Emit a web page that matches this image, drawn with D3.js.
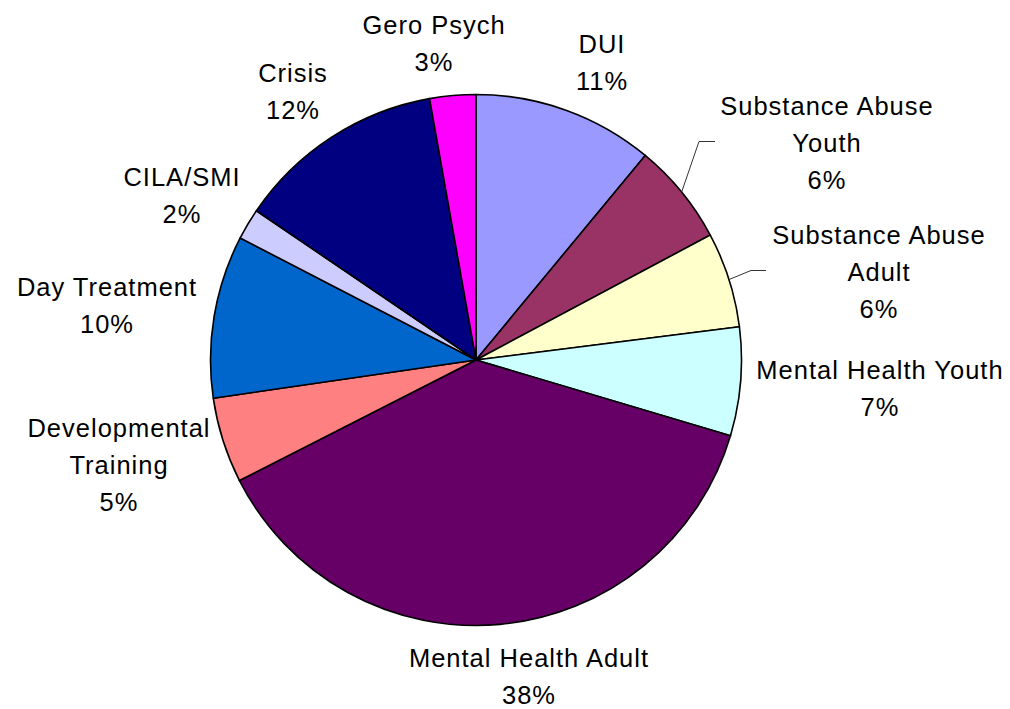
<!DOCTYPE html>
<html>
<head>
<meta charset="utf-8">
<script src="https://cdn.jsdelivr.net/npm/d3@7"></script>
<style>
  html, body { margin: 0; padding: 0; background: #ffffff; }
  svg { display: block; }
  text { font-family: "Liberation Sans", Arial, sans-serif; font-size: 25.5px; letter-spacing: 1px; fill: #000; }
</style>
</head>
<body>
<svg id="chart" width="1010" height="709"></svg>
<script>
// ---- Data (clockwise from 12 o'clock) ----
const categories = ["DUI", "Substance Abuse Youth", "Substance Abuse Adult", "Mental Health Youth",
  "Mental Health Adult", "Developmental Training", "Day Treatment", "CILA/SMI", "Crisis", "Gero Psych"];
const values = [11.0, 6.2, 5.8, 6.6, 37.9, 5.2, 9.9, 1.9, 12.7, 2.8];
const percentLabels = ["11%", "6%", "6%", "7%", "38%", "5%", "10%", "2%", "12%", "3%"];
const labelLines = [["DUI"], ["Substance Abuse", "Youth"], ["Substance Abuse", "Adult"], ["Mental Health Youth"],
  ["Mental Health Adult"], ["Developmental", "Training"], ["Day Treatment"], ["CILA/SMI"], ["Crisis"], ["Gero Psych"]];
const colors = ["#9999FF", "#993366", "#FFFFCC", "#CCFFFF", "#660066", "#FF8080", "#0066CC", "#CCCCFF", "#000080", "#FF00FF"];

// ---- Layout ----
const cx = 476, cy = 360, radius = 265.5;
const lineGap = 37;
// label anchor: center x and first baseline y
const labelLayout = {
  "DUI": [602, 53],
  "Substance Abuse Youth": [827, 115],
  "Substance Abuse Adult": [879, 243.5],
  "Mental Health Youth": [880, 378.5],
  "Mental Health Adult": [529, 667],
  "Developmental Training": [119, 436.5],
  "Day Treatment": [107, 295.5],
  "CILA/SMI": [182, 186],
  "Crisis": [293, 82],
  "Gero Psych": [434, 33.5]
};
// leader lines: elbow and end points
const leaderLayout = {
  "Substance Abuse Youth": [[699, 141.5], [715, 141.5]],
  "Substance Abuse Adult": [[751, 270.5], [766, 270.5]]
};

const svg = d3.select("#chart");
const g = svg.append("g").attr("transform", `translate(${cx},${cy})`);

const pie = d3.pie().sort(null).value(d => d.value);
const data = categories.map((c, i) => ({ name: c, value: values[i], color: colors[i], pct: percentLabels[i], lines: labelLines[i] }));
const arcs = pie(data);
const arc = d3.arc().innerRadius(0).outerRadius(radius);

g.selectAll("path.slice")
  .data(arcs)
  .join("path")
  .attr("class", "slice")
  .attr("d", arc)
  .attr("fill", d => d.data.color)
  .attr("stroke", "#000")
  .attr("stroke-width", 1.6)
  .attr("stroke-linejoin", "round");

// leader lines
const edgeArc = d3.arc().innerRadius(radius).outerRadius(radius);
arcs.forEach(a => {
  const lay = leaderLayout[a.data.name];
  if (!lay) return;
  const mid = (a.startAngle + a.endAngle) / 2;
  const sx = cx + radius * Math.sin(mid), sy = cy - radius * Math.cos(mid);
  svg.append("polyline")
    .attr("points", [[sx, sy], lay[0], lay[1]].map(p => p.join(",")).join(" "))
    .attr("fill", "none")
    .attr("stroke", "#333")
    .attr("stroke-width", 1);
});

// labels
arcs.forEach(a => {
  const [lx, ly] = labelLayout[a.data.name];
  const lines = a.data.lines.concat([a.data.pct]);
  const t = svg.append("text").attr("text-anchor", "middle");
  lines.forEach((ln, i) => {
    t.append("tspan").attr("x", lx).attr("y", ly + i * lineGap).text(ln);
  });
});
</script>
</body>
</html>
